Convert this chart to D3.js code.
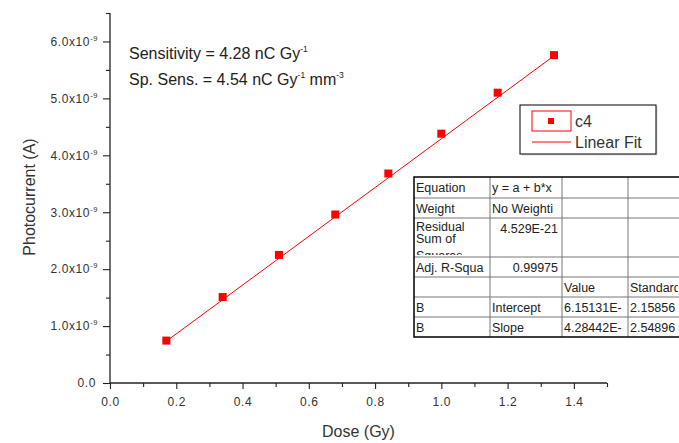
<!DOCTYPE html>
<html>
<head>
<meta charset="utf-8">
<script src="https://cdn.jsdelivr.net/npm/d3@7"></script>
<style>
  body { margin: 0; background: #fff; }
  svg { display: block; font-family: "Liberation Sans", Arial, sans-serif; }
</style>
</head>
<body>
<div id="vis"></div>
<script>
// data
const doses = [0.17, 0.34, 0.51, 0.68, 0.84, 1.00, 1.17, 1.34];
const currents = [0.745e-9, 1.51e-9, 2.25e-9, 2.96e-9, 3.68e-9, 4.38e-9, 5.10e-9, 5.76e-9];
const fitIntercept = 6.15131e-12;
const fitSlope = 4.28442e-9;
const xTicks = [0, 0.2, 0.4, 0.6, 0.8, 1.0, 1.2, 1.4];
const xMinorTicks = [0.1, 0.3, 0.5, 0.7, 0.9, 1.1, 1.3, 1.5];
const yTicks = [0, 1e-9, 2e-9, 3e-9, 4e-9, 5e-9, 6e-9];
const yMinorTicks = [0.5e-9, 1.5e-9, 2.5e-9, 3.5e-9, 4.5e-9, 5.5e-9, 6.5e-9];
const tableRows = [
  ["Equation", "y = a + b*x", "", ""],
  ["Weight", "No Weighti", "", ""],
  ["Residual\nSum of\nSquares", "4.529E-21", "", ""],
  ["Adj. R-Squa", "0.99975", "", ""],
  ["", "", "Value", "Standard"],
  ["B", "Intercept", "6.15131E-", "2.15856"],
  ["B", "Slope", "4.28442E-", "2.54896"]
];

const WIDTH = 679, HEIGHT = 443;
const MARGINS = {left: 110, top: 13, right: 72, bottom: 60};
const AXIS = "#222";
const RED = "#ff0000";

const svg = d3.select("#vis").append("svg")
  .attr("width", WIDTH).attr("height", HEIGHT);

const X_SCALE = d3.scaleLinear().domain([0, 1.5])
  .range([MARGINS.left, WIDTH - MARGINS.right]);
const Y_SCALE = d3.scaleLinear().domain([0, 6.5e-9])
  .range([HEIGHT - MARGINS.bottom, MARGINS.top]);

// x axis
const xAxis = svg.append("g")
  .attr("transform", "translate(0," + Y_SCALE(0) + ")")
  .call(d3.axisBottom(X_SCALE).tickValues(xTicks).tickSize(6).tickPadding(8)
    .tickFormat(d3.format(".1f")));
svg.append("g")
  .attr("transform", "translate(0," + Y_SCALE(0) + ")")
  .call(d3.axisBottom(X_SCALE).tickValues(xMinorTicks).tickSize(4).tickFormat(""))
  .select(".domain").remove();

// y axis
const yAxis = svg.append("g")
  .attr("transform", "translate(" + X_SCALE(0) + ",0)")
  .call(d3.axisLeft(Y_SCALE).tickValues(yTicks).tickSize(7).tickPadding(5)
    .tickFormat(() => ""));
svg.append("g")
  .attr("transform", "translate(" + X_SCALE(0) + ",0)")
  .call(d3.axisLeft(Y_SCALE).tickValues(yMinorTicks).tickSize(4).tickFormat(""))
  .select(".domain").remove();

// y tick labels with superscript exponent
yAxis.selectAll(".tick text").each(function(d) {
  const t = d3.select(this);
  if (d === 0) { t.text("0.0").attr("dx", -2); return; }
  t.append("tspan").text((d / 1e-9).toFixed(1) + "x10");
  t.append("tspan").attr("dy", -5).attr("font-size", 7.5).text("-9");
});

svg.selectAll(".domain").attr("stroke", AXIS).attr("stroke-width", 1.3);
svg.selectAll(".tick line").attr("stroke", AXIS).attr("stroke-width", 1.1);
svg.selectAll(".tick text").attr("fill", "#333").attr("font-size", 12)
  .attr("letter-spacing", 0.6)
  .attr("font-family", "Liberation Sans, Arial, sans-serif");
yAxis.selectAll(".domain").attr("d", "M0," + Y_SCALE(6.5e-9) + "V" + Y_SCALE(0));
xAxis.selectAll(".domain").attr("d", "M" + X_SCALE(0) + ",0H" + X_SCALE(1.5));

// axis titles
svg.append("text")
  .attr("x", (X_SCALE(0) + X_SCALE(1.5)) / 2).attr("y", 437)
  .attr("text-anchor", "middle").attr("font-size", 16).attr("fill", "#333")
  .text("Dose (Gy)");
svg.append("text")
  .attr("transform", "translate(35," + 197 + ") rotate(-90)")
  .attr("text-anchor", "middle").attr("font-size", 16).attr("fill", "#333")
  .text("Photocurrent (A)");

// linear fit
const fitLine = d3.line()
  .x((d) => X_SCALE(d))
  .y((d) => Y_SCALE(fitIntercept + fitSlope * d));
svg.append("path")
  .datum([doses[0], doses[doses.length - 1]])
  .attr("d", fitLine)
  .attr("fill", "none").attr("stroke", RED).attr("stroke-width", 1);

// data markers
svg.selectAll(".pt")
  .data(doses)
  .enter()
  .append("rect")
    .attr("class", "pt")
    .attr("x", (d) => X_SCALE(d) - 4)
    .attr("y", (d, i) => Y_SCALE(currents[i]) - 4)
    .attr("width", 8).attr("height", 8)
    .attr("fill", RED);

// annotation text
const note = svg.append("g").attr("font-size", 16).attr("fill", "#222");
const n1 = note.append("text").attr("x", 129).attr("y", 59);
n1.append("tspan").text("Sensitivity = 4.28 nC Gy");
n1.append("tspan").attr("dy", -7).attr("font-size", 8.5).text("-1");
const n2 = note.append("text").attr("x", 129).attr("y", 85);
n2.append("tspan").text("Sp. Sens. = 4.54 nC Gy");
n2.append("tspan").attr("dy", -7).attr("font-size", 8.5).text("-1");
n2.append("tspan").attr("dy", 7).text(" mm");
n2.append("tspan").attr("dy", -7).attr("font-size", 8.5).text("-3");

// legend
const leg = svg.append("g").attr("transform", "translate(520,105)");
leg.append("rect").attr("x", 1.5).attr("y", 1.5).attr("width", 136).attr("height", 49)
  .attr("fill", "#ddd");
leg.append("rect").attr("width", 136).attr("height", 49)
  .attr("fill", "#fff").attr("stroke", "#000").attr("stroke-width", 1);
leg.append("rect").attr("x", 12).attr("y", 6).attr("width", 39).attr("height", 20)
  .attr("fill", "none").attr("stroke", RED).attr("stroke-width", 1);
leg.append("rect").attr("x", 28).attr("y", 13).attr("width", 6).attr("height", 6)
  .attr("fill", RED);
leg.append("line").attr("x1", 12).attr("x2", 51).attr("y1", 37).attr("y2", 37)
  .attr("stroke", RED).attr("stroke-width", 1);
leg.append("text").attr("x", 55).attr("y", 22).attr("font-size", 16).attr("fill", "#333").text("c4");
leg.append("text").attr("x", 55).attr("y", 43).attr("font-size", 16).attr("fill", "#333").text("Linear Fit");

// fit result table
const colW = [76, 72, 66, 90];
const rowH = [21, 20, 39, 20, 20, 20, 20];
const colX = [0];
colW.forEach((w, i) => colX.push(colX[i] + w));
const rowY = [0];
rowH.forEach((h, i) => rowY.push(rowY[i] + h));
const tbl = svg.append("g").attr("transform", "translate(414,177)");
tbl.append("rect").attr("width", colX[4]).attr("height", rowY[7]).attr("fill", "#fff");
rowY.slice(1, 7).forEach((y) => {
  tbl.append("line").attr("x1", 0).attr("x2", colX[4]).attr("y1", y).attr("y2", y)
    .attr("stroke", "#777").attr("stroke-width", 1);
});
colX.slice(1, 4).forEach((x) => {
  tbl.append("line").attr("x1", x).attr("x2", x).attr("y1", 0).attr("y2", rowY[7])
    .attr("stroke", "#777").attr("stroke-width", 1);
});
tbl.append("rect").attr("width", colX[4]).attr("height", rowY[7])
  .attr("fill", "none").attr("stroke", "#000").attr("stroke-width", 1.5);

const defs = svg.append("defs");
tableRows.forEach((row, r) => {
  row.forEach((txt, c) => {
    if (!txt) return;
    const id = "cell" + r + "_" + c;
    const cw = Math.min(colW[c], WIDTH - 414 - colX[c]);
    defs.append("clipPath").attr("id", id).append("rect")
      .attr("x", 414 + colX[c] + 1).attr("y", 177 + rowY[r] + 1)
      .attr("width", cw - 2).attr("height", rowH[r] - 3);
    const numeric = c === 1 && (r === 2 || r === 3);
    const lines = txt.split("\n");
    const t = svg.append("text")
      .attr("clip-path", "url(#" + id + ")")
      .attr("font-size", 12.5).attr("fill", "#222")
      .attr("text-anchor", numeric ? "end" : "start");
    const tx = 414 + colX[c] + (numeric ? colW[c] - 4 : 2);
    const top = lines.length > 1 ? 12.5 : 15;
    lines.forEach((line, k) => {
      t.append("tspan").attr("x", tx)
        .attr("y", 177 + rowY[r] + top + k * 12 + (k === 2 ? 5 : 0))
        .text(line);
    });
  });
});
</script>
</body>
</html>
